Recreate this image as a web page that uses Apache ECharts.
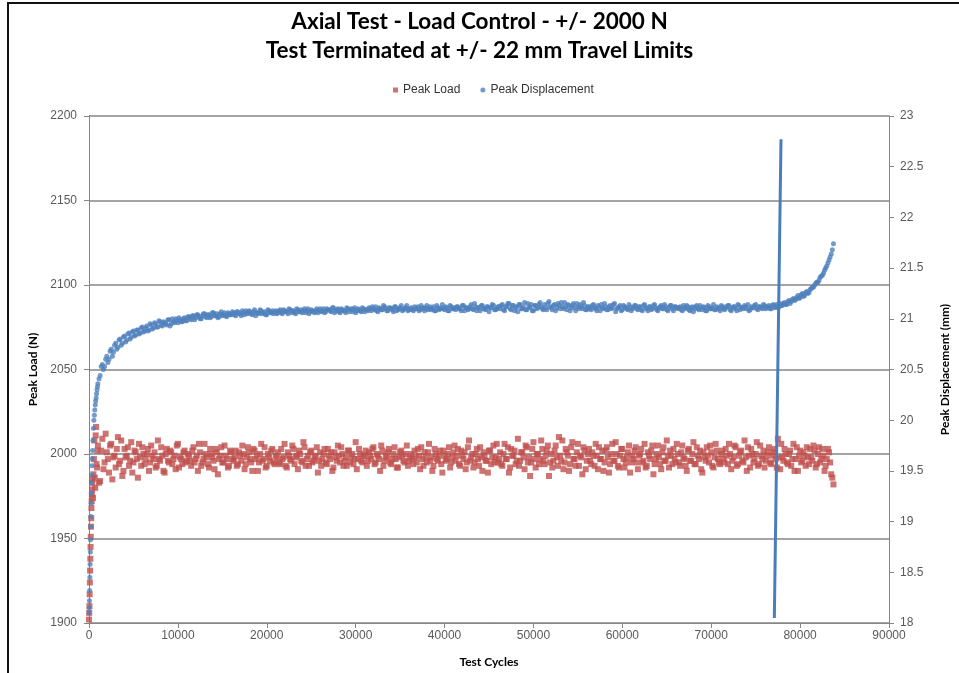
<!DOCTYPE html>
<html>
<head>
    <meta charset="utf-8">
    <title>Axial Test - Load Control</title>
    <script src="https://cdn.jsdelivr.net/npm/echarts@6/dist/echarts.min.js"></script>
    <style>
        html, body {
            margin: 0;
            padding: 0;
            background-color: #fff;
            overflow: hidden;
        }

        #chart {
            position: absolute;
            left: 0;
            top: 0;
            width: 959px;
            height: 673px;
        }

        /* 外框（截图中只露出上边和左边） */
        .frame {
            position: absolute;
            left: 7px;
            top: 2px;
            width: 1000px;
            height: 800px;
            border-left: 2px solid #111;
            border-top: 2px solid #111;
            pointer-events: none;
        }
    </style>
</head>
<body>
    <div id="chart"></div>
    <div class="frame"></div>

    <script type="text/javascript">
        // 第一组采样循环数 (cycles)
        const cycles = [
            0, 50, 100, 150, 200, 250, 300, 350, 400, 500, 600, 700, 800, 900, 1000,
            1250, 1500, 1750, 2000, 2250, 2500, 2750, 3000, 3250, 3500, 3750, 4000, 4250, 4500, 4750, 5000, 5250, 5500, 5750, 6000,
            6250, 6500, 6750, 7000, 7250, 7500, 7750, 8000, 8250, 8500, 8750, 9000, 9250, 9500, 9750, 10000, 10250, 10500, 10750, 11000,
            11250, 11500, 11750, 12000, 12250, 12500, 12750, 13000, 13250, 13500, 13750, 14000, 14250, 14500, 14750, 15000, 15250, 15500, 15750, 16000,
            16250, 16500, 16750, 17000, 17250, 17500, 17750, 18000, 18250, 18500, 18750, 19000, 19250, 19500, 19750, 20000, 20250, 20500, 20750, 21000,
            21250, 21500, 21750, 22000, 22250, 22500, 22750, 23000, 23250, 23500, 23750, 24000, 24250, 24500, 24750, 25000, 25250, 25500, 25750, 26000,
            26250, 26500, 26750, 27000, 27250, 27500, 27750, 28000, 28250, 28500, 28750, 29000, 29250, 29500, 29750, 30000, 30250, 30500, 30750, 31000,
            31250, 31500, 31750, 32000, 32250, 32500, 32750, 33000, 33250, 33500, 33750, 34000, 34250, 34500, 34750, 35000, 35250, 35500, 35750, 36000,
            36250, 36500, 36750, 37000, 37250, 37500, 37750, 38000, 38250, 38500, 38750, 39000, 39250, 39500, 39750, 40000, 40250, 40500, 40750, 41000,
            41250, 41500, 41750, 42000, 42250, 42500, 42750, 43000, 43250, 43500, 43750, 44000, 44250, 44500, 44750, 45000, 45250, 45500, 45750, 46000,
            46250, 46500, 46750, 47000, 47250, 47500, 47750, 48000, 48250, 48500, 48750, 49000, 49250, 49500, 49750, 50000, 50250, 50500, 50750, 51000,
            51250, 51500, 51750, 52000, 52250, 52500, 52750, 53000, 53250, 53500, 53750, 54000, 54250, 54500, 54750, 55000, 55250, 55500, 55750, 56000,
            56250, 56500, 56750, 57000, 57250, 57500, 57750, 58000, 58250, 58500, 58750, 59000, 59250, 59500, 59750, 60000, 60250, 60500, 60750, 61000,
            61250, 61500, 61750, 62000, 62250, 62500, 62750, 63000, 63250, 63500, 63750, 64000, 64250, 64500, 64750, 65000, 65250, 65500, 65750, 66000,
            66250, 66500, 66750, 67000, 67250, 67500, 67750, 68000, 68250, 68500, 68750, 69000, 69250, 69500, 69750, 70000, 70250, 70500, 70750, 71000,
            71250, 71500, 71750, 72000, 72250, 72500, 72750, 73000, 73250, 73500, 73750, 74000, 74250, 74500, 74750, 75000, 75250, 75500, 75750, 76000,
            76250, 76500, 76750, 77000, 77250, 77500, 77750, 78000, 78250, 78500, 78750, 79000, 79250, 79500, 79750, 80000, 80250, 80500, 80750, 81000,
            81250, 81500, 81750, 82000, 82250, 82500, 82750, 83000, 83250, 83500, 83750
        ];

        // 峰值载荷 (N)
        const peakLoad = [
            1902, 1910, 1924, 1938, 1951, 1962, 1972, 1979, 1985, 1988, 2008, 1980, 2016, 1992, 2005,
            1984, 2009, 1995, 2001, 1989, 2006, 1998, 1992, 2010, 1996, 1987, 2003, 1999, 1993, 2007, 1995, 2001, 1986, 1998, 2004,
            1994, 2000, 1990, 2005, 1997, 1992, 2008, 1996, 1999, 1989, 2003, 1995, 2001, 1997, 1991, 2006, 1998, 1994, 2002, 1996,
            1999, 1993, 2004, 1997, 1990, 2001, 1995, 2006, 1998, 1992, 2000, 1996, 2003, 1988, 1999, 1995, 2005, 1997, 1993, 2001,
            1996, 2002, 1994, 1999, 2005, 1991, 1998, 2001, 1995, 2003, 1997, 1990, 2000, 1996, 2004, 1993, 1998, 2002, 1995, 1999,
            2001, 1994, 1997, 2006, 1992, 1999, 1996, 2003, 1998, 1991, 2000, 1995, 2004, 1997, 1993, 2002, 1996, 1999, 1989, 2001,
            1997, 2003, 1994, 1999, 2001, 1992, 1998, 2005, 1995, 2000, 1996, 1993, 2002, 1998, 1994, 2007, 1997, 2000, 1995, 1999,
            1993, 2001, 1997, 2004, 1995, 1999, 1990, 2002, 1996, 1998, 2003, 1994, 2000, 1997, 1992, 2001, 1999, 1995, 2005, 1996,
            2000, 1994, 1998, 2003, 1991, 1997, 2001, 1995, 2006, 1998, 1993, 2000, 1996, 2002, 1989, 1999, 1997, 2004, 1995, 2001,
            1996, 2003, 1993, 1999, 2001, 1995, 2008, 1998, 1992, 2000, 1997, 2004, 1990, 1999, 1996, 2002, 1994, 2005, 1998, 1995,
            2001, 1993, 2006, 1997, 1989, 2003, 1999, 1994, 2009, 1996, 2001, 1991, 2004, 1998, 1995, 2007, 1992, 2000, 1997, 2003,
            1994, 2002, 1987, 2000, 1996, 2005, 1993, 1999, 2008, 1995, 2001, 1990, 2004, 1997, 1993, 2006, 1999, 1988, 2002, 1996,
            2003, 1994, 1999, 2006, 1991, 1997, 2002, 1995, 2004, 1989, 2000, 1996, 2007, 1993, 1999, 2003, 1992, 1998, 2005, 1995,
            1997, 2004, 1991, 2000, 1995, 2006, 1993, 1999, 2002, 1988, 1997, 2005, 1994, 2001, 1996, 2008, 1992, 1999, 2003, 1995,
            2000, 1993, 2005, 1997, 1990, 2003, 1996, 2007, 1994, 1999, 2002, 1989, 1998, 2004, 1995, 2001, 1992, 2006, 1997, 1994,
            2002, 1995, 1999, 2006, 1991, 1998, 2004, 1994, 2001, 1996, 2008, 1990, 1999, 2003, 1995, 2000, 1993, 2005, 1997, 1992,
            1999, 2004, 1994, 2001, 1997, 2009, 1991, 1998, 2003, 1995, 2000, 1993, 2006, 1997, 1990, 2002, 1996, 1999, 2004, 1994,
            1998, 2005, 1992, 2000, 1995, 2003, 1990, 1997, 2001, 1988, 1982
        ];

        // 峰值位移 (mm)
        const peakDisp = [
            18.10, 18.22, 18.45, 18.70, 18.95, 19.18, 19.38, 19.55, 19.70, 19.92, 20.05, 20.15, 20.22, 20.30, 20.36,
            20.44, 20.55, 20.53, 20.63, 20.60, 20.70, 20.67, 20.76, 20.72, 20.80, 20.76, 20.83, 20.79, 20.86, 20.82, 20.88, 20.84, 20.89, 20.86, 20.92,
            20.88, 20.93, 20.89, 20.94, 20.91, 20.95, 20.92, 20.97, 20.93, 20.96, 20.94, 20.99, 20.95, 20.97, 21.00, 20.96, 20.99, 20.97, 21.01, 20.98,
            21.02, 20.99, 21.03, 21.01, 21.04, 21.00, 21.03, 21.05, 21.01, 21.04, 21.02, 21.06, 21.03, 21.01, 21.05, 21.03, 21.06, 21.02, 21.05, 21.04,
            21.06, 21.03, 21.07, 21.05, 21.08, 21.04, 21.06, 21.08, 21.05, 21.07, 21.03, 21.06, 21.09, 21.05, 21.07, 21.04, 21.08, 21.06, 21.05, 21.08,
            21.06, 21.09, 21.05, 21.08, 21.07, 21.10, 21.06, 21.08, 21.05, 21.09, 21.07, 21.06, 21.10, 21.08, 21.05, 21.09, 21.07, 21.08, 21.06, 21.10,
            21.08, 21.06, 21.10, 21.09, 21.07, 21.11, 21.08, 21.10, 21.06, 21.09, 21.08, 21.11, 21.07, 21.10, 21.09, 21.06, 21.10, 21.08, 21.11, 21.07,
            21.09, 21.11, 21.08, 21.10, 21.12, 21.07, 21.10, 21.09, 21.12, 21.08, 21.11, 21.10, 21.07, 21.12, 21.09, 21.11, 21.08, 21.10, 21.13, 21.09,
            21.11, 21.08, 21.10, 21.12, 21.09, 21.11, 21.08, 21.13, 21.10, 21.09, 21.12, 21.08, 21.11, 21.10, 21.14, 21.09, 21.11, 21.08, 21.12, 21.10,
            21.09, 21.12, 21.10, 21.13, 21.08, 21.11, 21.10, 21.14, 21.09, 21.12, 21.11, 21.08, 21.13, 21.10, 21.12, 21.07, 21.11, 21.13, 21.09, 21.12,
            21.10, 21.14, 21.08, 21.12, 21.15, 21.09, 21.13, 21.11, 21.07, 21.14, 21.10, 21.16, 21.09, 21.12, 21.14, 21.08, 21.13, 21.11, 21.16, 21.10,
            21.14, 21.09, 21.17, 21.11, 21.13, 21.08, 21.15, 21.10, 21.12, 21.16, 21.09, 21.13, 21.11, 21.15, 21.08, 21.12, 21.14, 21.10, 21.13, 21.09,
            21.12, 21.09, 21.14, 21.10, 21.13, 21.08, 21.11, 21.15, 21.09, 21.12, 21.10, 21.14, 21.07, 21.11, 21.13, 21.09, 21.12, 21.10, 21.14, 21.08,
            21.11, 21.13, 21.09, 21.12, 21.08, 21.14, 21.10, 21.12, 21.09, 21.13, 21.11, 21.08, 21.12, 21.10, 21.14, 21.09, 21.11, 21.13, 21.08, 21.12,
            21.10, 21.12, 21.08, 21.11, 21.13, 21.09, 21.11, 21.07, 21.12, 21.10, 21.13, 21.09, 21.11, 21.08, 21.12, 21.10, 21.14, 21.09, 21.11, 21.08,
            21.12, 21.09, 21.11, 21.13, 21.08, 21.12, 21.10, 21.14, 21.09, 21.11, 21.13, 21.10, 21.08, 21.12, 21.11, 21.14, 21.09, 21.12, 21.10, 21.13,
            21.11, 21.13, 21.10, 21.14, 21.12, 21.11, 21.15, 21.13, 21.16, 21.14, 21.18, 21.17, 21.20, 21.19, 21.23, 21.21, 21.25, 21.23, 21.27, 21.26,
            21.30, 21.31, 21.35, 21.36, 21.41, 21.43, 21.48, 21.52, 21.58, 21.64, 21.74
        ];

        // 第二组采样（与第一组错开的循环）
        const cycles2 = [
            25, 75, 125, 175, 225, 275, 325, 375, 450, 550, 650, 750, 850, 950, 1125,
            1375, 1625, 1875, 2125, 2375, 2625, 2875, 3125, 3375, 3625, 3875, 4125, 4375, 4625, 4875, 5125, 5375, 5625, 5875, 6125,
            6375, 6625, 6875, 7125, 7375, 7625, 7875, 8125, 8375, 8625, 8875, 9125, 9375, 9625, 9875, 10125, 10375, 10625, 10875, 11125,
            11375, 11625, 11875, 12125, 12375, 12625, 12875, 13125, 13375, 13625, 13875, 14125, 14375, 14625, 14875, 15125, 15375, 15625, 15875, 16125,
            16375, 16625, 16875, 17125, 17375, 17625, 17875, 18125, 18375, 18625, 18875, 19125, 19375, 19625, 19875, 20125, 20375, 20625, 20875, 21125,
            21375, 21625, 21875, 22125, 22375, 22625, 22875, 23125, 23375, 23625, 23875, 24125, 24375, 24625, 24875, 25125, 25375, 25625, 25875, 26125,
            26375, 26625, 26875, 27125, 27375, 27625, 27875, 28125, 28375, 28625, 28875, 29125, 29375, 29625, 29875, 30125, 30375, 30625, 30875, 31125,
            31375, 31625, 31875, 32125, 32375, 32625, 32875, 33125, 33375, 33625, 33875, 34125, 34375, 34625, 34875, 35125, 35375, 35625, 35875, 36125,
            36375, 36625, 36875, 37125, 37375, 37625, 37875, 38125, 38375, 38625, 38875, 39125, 39375, 39625, 39875, 40125, 40375, 40625, 40875, 41125,
            41375, 41625, 41875, 42125, 42375, 42625, 42875, 43125, 43375, 43625, 43875, 44125, 44375, 44625, 44875, 45125, 45375, 45625, 45875, 46125,
            46375, 46625, 46875, 47125, 47375, 47625, 47875, 48125, 48375, 48625, 48875, 49125, 49375, 49625, 49875, 50125, 50375, 50625, 50875, 51125,
            51375, 51625, 51875, 52125, 52375, 52625, 52875, 53125, 53375, 53625, 53875, 54125, 54375, 54625, 54875, 55125, 55375, 55625, 55875, 56125,
            56375, 56625, 56875, 57125, 57375, 57625, 57875, 58125, 58375, 58625, 58875, 59125, 59375, 59625, 59875, 60125, 60375, 60625, 60875, 61125,
            61375, 61625, 61875, 62125, 62375, 62625, 62875, 63125, 63375, 63625, 63875, 64125, 64375, 64625, 64875, 65125, 65375, 65625, 65875, 66125,
            66375, 66625, 66875, 67125, 67375, 67625, 67875, 68125, 68375, 68625, 68875, 69125, 69375, 69625, 69875, 70125, 70375, 70625, 70875, 71125,
            71375, 71625, 71875, 72125, 72375, 72625, 72875, 73125, 73375, 73625, 73875, 74125, 74375, 74625, 74875, 75125, 75375, 75625, 75875, 76125,
            76375, 76625, 76875, 77125, 77375, 77625, 77875, 78125, 78375, 78625, 78875, 79125, 79375, 79625, 79875, 80125, 80375, 80625, 80875, 81125,
            81375, 81625, 81875, 82125, 82375, 82625, 82875, 83125, 83375, 83625
        ];

        const peakLoad2 = [
            1906, 1917, 1931, 1945, 1957, 1968, 1976, 1983, 1974, 1997, 1986, 2011, 1994, 2002, 1983,
            2002, 1991, 2012, 1997, 2005, 1985, 1999, 2003, 1994, 2008, 1990, 1998, 2004, 1996, 1989, 2002, 1997, 2006, 1993, 2000,
            1997, 2003, 1995, 1999, 2001, 1993, 1997, 2004, 1990, 2000, 1996, 2002, 1994, 1999, 2005, 1992, 1997, 2001, 1995, 2000,
            1996, 2002, 1995, 1999, 2006, 1993, 1997, 2000, 1994, 2003, 1998, 1991, 2001, 1997, 2004, 1995, 1999, 1992, 2002, 1997,
            1998, 1993, 2001, 1996, 2000, 1994, 2004, 1997, 1990, 2002, 1999, 1995, 2006, 1997, 1992, 2000, 1996, 2003, 1994, 1998,
            1995, 2003, 1998, 1993, 2001, 1997, 2005, 1994, 1999, 2002, 1996, 2007, 1993, 1999, 2001, 1995, 1998, 2004, 1996, 1993,
            2000, 1995, 2003, 1997, 1990, 2001, 1996, 1999, 2004, 1993, 1998, 2002, 1995, 2000, 1997, 1991, 2003, 1996, 1999, 2002,
            1996, 1999, 2003, 1994, 2000, 1997, 2005, 1993, 1999, 2001, 1995, 1997, 2004, 1992, 1998, 2002, 1996, 2000, 1993, 1998,
            1997, 2002, 1995, 1999, 2004, 1993, 1998, 2001, 1996, 1990, 2003, 1997, 1999, 1994, 2002, 1996, 2000, 1992, 1998, 2005,
            1999, 1994, 2002, 1997, 1991, 2004, 1996, 2000, 1995, 2003, 1993, 1998, 2001, 1996, 1989, 2002, 1998, 1995, 2006, 1997,
            1994, 2000, 1997, 2004, 1992, 1999, 2002, 1996, 1993, 2001, 1998, 2005, 1995, 1987, 2003, 1997, 2000, 1994, 2008, 1996,
            1999, 2005, 1995, 1992, 2002, 1998, 2010, 1996, 1991, 2003, 1999, 1994, 2007, 1997, 2001, 1993, 1998, 2004, 1991, 2000,
            1996, 2001, 1993, 1999, 2004, 1997, 1990, 2002, 1998, 1994, 2006, 1996, 2000, 1992, 2003, 1997, 1995, 2001, 1989, 1999,
            2002, 1995, 1999, 2003, 1996, 1992, 2001, 1997, 2005, 1994, 2000, 1998, 1991, 2004, 1996, 1999, 2002, 1994, 1997, 2006,
            1995, 2001, 1998, 1993, 2002, 1996, 2000, 1994, 2004, 1997, 1991, 2001, 1996, 1999, 2005, 1993, 1998, 2002, 1995, 2000,
            1997, 2003, 1994, 2000, 1996, 2005, 1993, 1999, 2002, 1995, 1998, 2004, 1992, 2000, 1997, 2007, 1994, 1999, 2002, 1996,
            2001, 1995, 1999, 2003, 1992, 1998, 2006, 1996, 2000, 1994, 2002, 1997, 1990, 2004, 1999, 1995, 2001, 1993, 1998, 2003,
            1996, 2002, 1994, 2004, 1997, 1999, 1993, 2003, 1995, 1986
        ];

        const peakDisp2 = [
            18.15, 18.32, 18.58, 18.82, 19.05, 19.28, 19.46, 19.62, 19.80, 20.00, 20.10, 20.19, 20.26, 20.33, 20.41,
            20.53, 20.50, 20.60, 20.57, 20.68, 20.63, 20.74, 20.70, 20.79, 20.74, 20.82, 20.77, 20.85, 20.80, 20.87, 20.83, 20.89, 20.85, 20.91, 20.87,
            20.91, 20.88, 20.95, 20.90, 20.96, 20.92, 20.98, 20.94, 20.97, 20.95, 20.99, 20.93, 21.00, 20.96, 20.98, 21.01, 20.97, 21.00, 20.98, 21.02,
            21.00, 21.03, 20.99, 21.04, 21.02, 21.00, 21.05, 21.02, 21.04, 21.01, 21.06, 21.03, 21.05, 21.02, 21.07, 21.04, 21.03, 21.06, 21.04, 21.07,
            21.04, 21.07, 21.05, 21.03, 21.06, 21.08, 21.05, 21.07, 21.04, 21.09, 21.06, 21.05, 21.08, 21.06, 21.04, 21.09, 21.06, 21.08, 21.07, 21.05,
            21.08, 21.06, 21.09, 21.07, 21.05, 21.09, 21.08, 21.06, 21.10, 21.07, 21.09, 21.08, 21.06, 21.10, 21.07, 21.08, 21.06, 21.10, 21.08, 21.07,
            21.10, 21.07, 21.09, 21.08, 21.11, 21.06, 21.09, 21.07, 21.10, 21.08, 21.06, 21.10, 21.09, 21.07, 21.11, 21.08, 21.09, 21.07, 21.10, 21.09,
            21.08, 21.10, 21.12, 21.09, 21.08, 21.11, 21.09, 21.13, 21.10, 21.08, 21.11, 21.09, 21.12, 21.08, 21.10, 21.13, 21.09, 21.11, 21.08, 21.10,
            21.09, 21.12, 21.10, 21.08, 21.13, 21.10, 21.11, 21.09, 21.12, 21.10, 21.08, 21.13, 21.09, 21.11, 21.10, 21.12, 21.08, 21.13, 21.10, 21.11,
            21.12, 21.10, 21.08, 21.13, 21.11, 21.09, 21.12, 21.10, 21.15, 21.08, 21.11, 21.13, 21.10, 21.09, 21.12, 21.11, 21.14, 21.09, 21.10, 21.12,
            21.13, 21.09, 21.12, 21.15, 21.10, 21.13, 21.08, 21.12, 21.14, 21.10, 21.12, 21.09, 21.15, 21.11, 21.08, 21.13, 21.10, 21.14, 21.12, 21.09,
            21.11, 21.15, 21.12, 21.09, 21.14, 21.11, 21.13, 21.16, 21.10, 21.12, 21.14, 21.08, 21.13, 21.11, 21.15, 21.10, 21.12, 21.16, 21.09, 21.12,
            21.10, 21.13, 21.11, 21.08, 21.12, 21.14, 21.10, 21.12, 21.09, 21.13, 21.11, 21.15, 21.10, 21.12, 21.08, 21.13, 21.11, 21.09, 21.12, 21.10,
            21.13, 21.10, 21.12, 21.09, 21.13, 21.11, 21.08, 21.12, 21.10, 21.14, 21.09, 21.11, 21.13, 21.10, 21.12, 21.08, 21.13, 21.10, 21.12, 21.11,
            21.11, 21.09, 21.13, 21.10, 21.12, 21.08, 21.12, 21.10, 21.13, 21.09, 21.11, 21.12, 21.08, 21.13, 21.10, 21.11, 21.09, 21.12, 21.10, 21.13,
            21.10, 21.12, 21.13, 21.09, 21.11, 21.12, 21.08, 21.13, 21.11, 21.10, 21.12, 21.14, 21.09, 21.11, 21.13, 21.10, 21.12, 21.11, 21.14, 21.10,
            21.12, 21.10, 21.13, 21.11, 21.14, 21.12, 21.13, 21.15, 21.14, 21.17, 21.15, 21.19, 21.18, 21.21, 21.20, 21.24, 21.22, 21.26, 21.25, 21.29,
            21.31, 21.33, 21.36, 21.38, 21.42, 21.45, 21.50, 21.55, 21.61, 21.68
        ];

        // 行程极限标记线 (cycles, mm)
        const limitCycles = [77100, 77850];
        const limitDisp = [18.05, 22.77];

        const xTicks = { min: 0, max: 90000, interval: 10000 };
        const loadTicks = { min: 1900, max: 2200, interval: 50 };
        const dispTicks = { min: 18, max: 23, interval: 0.5 };

        const loadPoints = cycles.map((c, i) => [c, peakLoad[i]])
            .concat(cycles2.map((c, i) => [c, peakLoad2[i]]));
        const dispPoints = cycles.map((c, i) => [c, peakDisp[i]])
            .concat(cycles2.map((c, i) => [c, peakDisp2[i]]));
        const limitPoints = limitCycles.map((c, i) => [c, limitDisp[i]]);

        const axisGrey = '#868686';
        const labelStyle = {
            color: '#595959',
            fontSize: 12,
            fontFamily: 'Liberation Sans, Arial, sans-serif',
            formatter: function (v) { return String(v); }
        };
        const nameStyle = {
            color: '#000',
            fontSize: 12,
            fontWeight: 'bold',
            fontFamily: 'Lato, sans-serif'
        };

        const chart = echarts.init(document.getElementById('chart'));
        const option = {
            animation: false,
            backgroundColor: 'transparent',
            title: {
                text: 'Axial Test - Load Control - +/- 2000 N\nTest Terminated at +/- 22 mm Travel Limits',
                left: 'center',
                top: 2,
                textStyle: {
                    color: '#000',
                    fontSize: 22.5,
                    fontWeight: 'bold',
                    lineHeight: 29,
                    fontFamily: 'Lato, sans-serif'
                }
            },
            legend: {
                left: 388,
                top: 79,
                itemWidth: 5,
                itemHeight: 5,
                itemGap: 20,
                textStyle: {
                    color: '#333',
                    fontSize: 12,
                    fontFamily: 'Liberation Sans, Arial, sans-serif'
                },
                data: [
                    { name: 'Peak Load', icon: 'rect' },
                    { name: 'Peak Displacement', icon: 'circle' }
                ]
            },
            grid: {
                left: 89,
                right: 68,
                top: 116,
                bottom: 48
            },
            xAxis: {
                type: 'value',
                min: xTicks.min,
                max: xTicks.max,
                interval: xTicks.interval,
                name: 'Test Cycles',
                nameLocation: 'middle',
                nameGap: 33,
                nameTextStyle: nameStyle,
                axisLine: { lineStyle: { color: axisGrey, width: 1 } },
                axisTick: { show: true, length: 5, lineStyle: { color: axisGrey } },
                axisLabel: Object.assign({ margin: 7 }, labelStyle),
                splitLine: { show: false }
            },
            yAxis: [{
                type: 'value',
                position: 'left',
                min: loadTicks.min,
                max: loadTicks.max,
                interval: loadTicks.interval,
                name: 'Peak Load (N)',
                nameLocation: 'middle',
                nameGap: 37,
                nameTextStyle: nameStyle,
                axisLine: { show: true, lineStyle: { color: axisGrey, width: 1 } },
                axisTick: { show: true, length: 5, lineStyle: { color: axisGrey } },
                axisLabel: Object.assign({ margin: 12 }, labelStyle),
                splitLine: { show: true, lineStyle: { color: axisGrey, width: 1.5 } }
            }, {
                type: 'value',
                position: 'right',
                min: dispTicks.min,
                max: dispTicks.max,
                interval: dispTicks.interval,
                name: 'Peak Displacement (mm)',
                nameLocation: 'middle',
                nameGap: 50,
                nameTextStyle: nameStyle,
                axisLine: { show: true, lineStyle: { color: axisGrey, width: 1 } },
                axisTick: { show: true, length: 5, lineStyle: { color: axisGrey } },
                axisLabel: Object.assign({ margin: 11 }, labelStyle),
                splitLine: { show: false }
            }],
            series: [{
                name: 'Peak Load',
                type: 'scatter',
                yAxisIndex: 0,
                symbol: 'rect',
                symbolSize: 6,
                itemStyle: { color: '#c0504d' },
                data: loadPoints
            }, {
                name: 'Peak Displacement',
                type: 'scatter',
                yAxisIndex: 1,
                symbol: 'circle',
                symbolSize: 5,
                itemStyle: { color: '#4f81bd' },
                data: dispPoints
            }, {
                name: 'Travel Limit',
                type: 'line',
                yAxisIndex: 1,
                symbol: 'none',
                silent: true,
                lineStyle: { color: '#4a7ebb', width: 3 },
                data: limitPoints
            }]
        };
        chart.setOption(option);
    </script>
</body>
</html>
